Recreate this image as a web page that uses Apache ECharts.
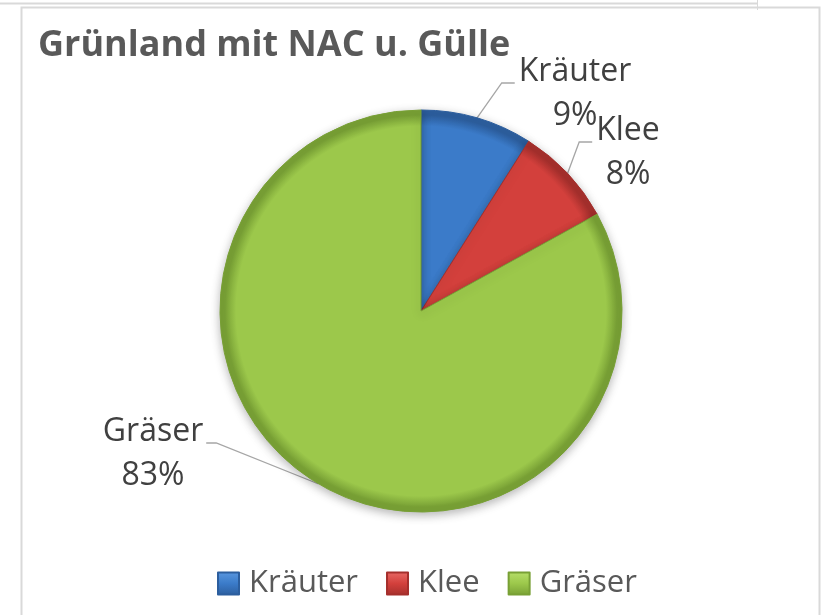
<!DOCTYPE html>
<html>
<head>
<meta charset="utf-8">
<script src="https://cdn.jsdelivr.net/npm/echarts@6/dist/echarts.min.js"></script>
<style>
html,body{margin:0;padding:0;background:#fff;}
#c{width:822px;height:615px;}
</style>
</head>
<body>
<div id="c"></div>
<script>
const titleText = 'Grünland mit NAC u. Gülle';
const categories = ['Kräuter', 'Klee', 'Gräser'];
const values = [9, 8, 83];

const baseColors = ['#3b7bc9', '#d3403c', '#9cc84b'];
const rimColors = ['#2c5e9e', '#a52f2c', '#78a035'];
const lightColors = ['#5a98e0', '#e86a66', '#b7df6a'];

const CX = 421, CY = 311, R = 201;
// label block centres (layout only)
const labelPos = [[575, 94], [628, 153], [153, 454]];
const LH = 44;

function sliceFill(i) {
  return {
    type: 'radial', x: CX, y: CY, r: R, global: true,
    colorStops: [
      {offset: 0, color: baseColors[i]},
      {offset: 0.92, color: baseColors[i]},
      {offset: 0.975, color: rimColors[i]},
      {offset: 1, color: rimColors[i]}
    ]
  };
}
function legendFill(i) {
  return {
    type: 'linear', x: 0, y: 0, x2: 0, y2: 1,
    colorStops: [
      {offset: 0, color: lightColors[i]},
      {offset: 0.5, color: baseColors[i]},
      {offset: 1, color: rimColors[i]}
    ]
  };
}

const data = categories.map((name, i) => ({
  name: name,
  value: values[i],
  itemStyle: {color: sliceFill(i), borderColor: rimColors[i], borderWidth: 1}
}));

const chart = echarts.init(document.getElementById('c'), null, {renderer: 'canvas'});
chart.setOption({
  animation: false,
  backgroundColor: '#ffffff',
  title: {
    text: titleText,
    left: 33, top: 23,
    textStyle: {fontFamily: 'Open Sans', fontWeight: 'bold', fontSize: 36, color: '#595959'}
  },
  legend: {
    data: categories.map((c, i) => ({name: c, itemStyle: {color: legendFill(i)}})),
    left: 212, top: 563,
    icon: 'rect', itemWidth: 21, itemHeight: 22, itemGap: 28,
    textStyle: {fontFamily: 'Open Sans', fontSize: 31, color: '#595959', padding: [0, 0, 0, 5]}
  },
  graphic: [
    {type: 'line', shape: {x1: 0, y1: 3.5, x2: 757, y2: 3.5}, style: {stroke: '#d9d9d9', lineWidth: 2}, silent: true},
    {type: 'line', shape: {x1: 757.5, y1: 0, x2: 757.5, y2: 10}, style: {stroke: '#d9d9d9', lineWidth: 1}, silent: true},
    {type: 'polyline', shape: {points: [[21.5, 615], [21.5, 7.5], [819.5, 7.5], [819.5, 615]]}, style: {stroke: '#d9d9d9', lineWidth: 2, fill: null}, silent: true}
  ],
  series: [{
    type: 'pie',
    center: [CX, CY],
    radius: R,
    startAngle: 90,
    clockwise: true,
    data: data,
    itemStyle: {shadowBlur: 10, shadowColor: 'rgba(0,0,0,0.28)', shadowOffsetY: 3},
    label: {
      show: true,
      position: 'outside',
      formatter: function (p) { return p.name + '\n' + Math.round(p.percent) + '%'; },
      fontFamily: 'Open Sans', fontSize: 32, color: '#404040', lineHeight: LH
    },
    labelLine: {show: true, length: 20, length2: 10, lineStyle: {color: '#a6a6a6', width: 1.3}},
    labelLayout: function (p) {
      const i = p.dataIndex;
      const pos = labelPos[i];
      const w = p.labelRect.width;
      const lineY = pos[1] - LH / 2 + 11;
      const right = pos[0] > CX;
      const endX = right ? pos[0] - w / 2 - 4 : pos[0] + w / 2 + 3;
      const bendX = right ? endX - 13 : endX + 10;
      const pts = p.labelLinePoints;
      return {
        x: pos[0], y: pos[1], align: 'center', verticalAlign: 'middle',
        labelLinePoints: [pts[0], [bendX, lineY], [endX, lineY]]
      };
    }
  }]
});
</script>
</body>
</html>
